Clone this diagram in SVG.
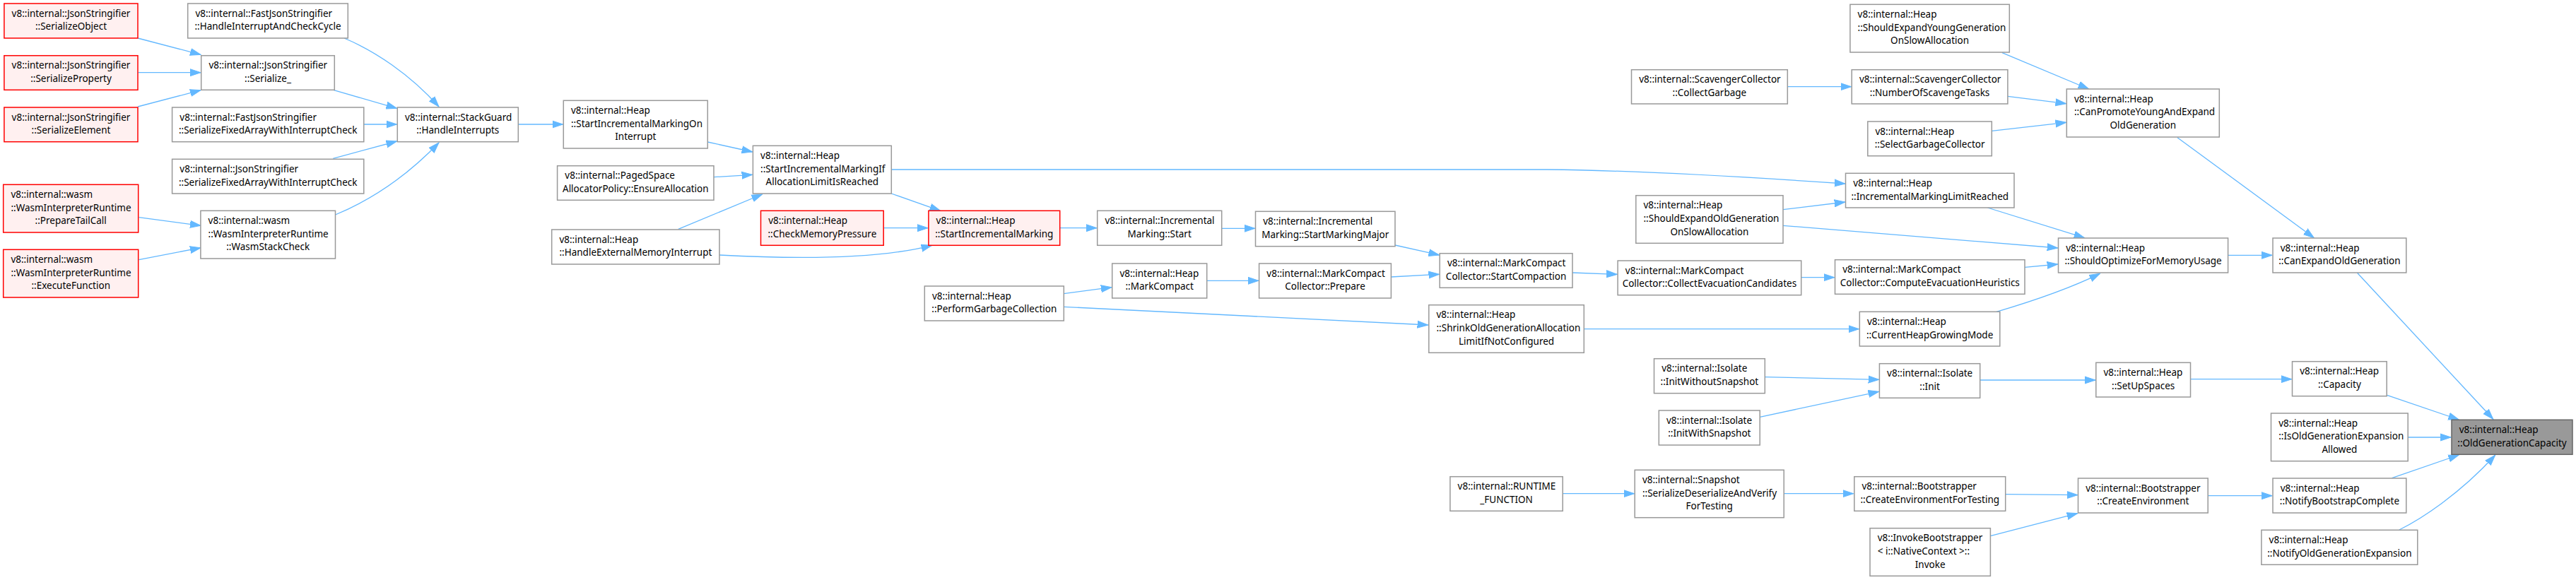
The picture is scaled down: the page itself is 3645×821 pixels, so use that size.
<svg xmlns="http://www.w3.org/2000/svg" width="3645" height="821" viewBox="0 0 3645 821">
<defs>
<marker id="a" markerUnits="userSpaceOnUse" markerWidth="16" markerHeight="12" refX="15" refY="6" orient="auto"><path d="M0,1 L15,6 L0,11 z" fill="#63b8ff" stroke="#63b8ff" stroke-width="1"/></marker>
</defs>
<style>
rect{fill:#ffffff;stroke:#999999;stroke-width:1.5}
.r rect{fill:#fff0f0;stroke:#ff0000}
.t rect{fill:#999999;stroke:#666666}
text{font-family:"Noto Sans","DejaVu Sans",sans-serif;font-size:13.5px;fill:#000000}
.m{text-anchor:middle}
#edges path{fill:none;stroke:#63b8ff;stroke-width:1.3;marker-end:url(#a)}
</style>
<rect x="0" y="0" width="3645" height="821" style="fill:#ffffff;stroke:none"/>
<g id="edges">
<path d="M195,54 L284,77.3"/>
<path d="M195.7,102.7 L284,102.7"/>
<path d="M195,151 L284,127.7"/>
<path d="M487,54 C530,72 580,105 621,151"/>
<path d="M472.5,127.7 L561.5,153.3"/>
<path d="M514.8,176 L561.5,176"/>
<path d="M471.3,224.3 L561.5,200"/>
<path d="M474.5,304 C525,283 575,250 621,202"/>
<path d="M196.5,307.7 L284,319.3"/>
<path d="M196.5,367.7 L284,350.7"/>
<path d="M733.3,176 L796.5,176"/>
<path d="M1001.3,201 L1064.6,215"/>
<path d="M1010,250.7 L1064.6,247.3"/>
<path d="M959.8,324.3 L1078.5,275"/>
<path d="M1018,361 C1110,366 1240,368 1318.6,347.3"/>
<path d="M1261.3,274 L1330.5,298.3"/>
<path d="M1250.2,322.7 L1313,322.7"/>
<path d="M1261.3,240 L2190,240 C2300,241 2450,249 2610.8,260"/>
<path d="M1499.7,322.7 L1552,322.7"/>
<path d="M1728.7,323.3 L1775.7,323.3"/>
<path d="M1974,347 L2036.5,361"/>
<path d="M1968.4,392 L2036.5,388.3"/>
<path d="M1707.7,397.3 L1780.9,397.3"/>
<path d="M1505.3,415.7 L1572.9,406.7"/>
<path d="M1505.3,434.3 L2020.6,460"/>
<path d="M2225,386 L2288.3,388.3"/>
<path d="M2548.7,392.7 L2595.7,392.7"/>
<path d="M2865,378.3 L2911.7,374"/>
<path d="M2523,296.7 L2610.8,286"/>
<path d="M2523,319.3 L2911.7,351"/>
<path d="M2812.4,294 L2949.6,336.7"/>
<path d="M2241.3,465.7 L2630.5,465.7"/>
<path d="M2825,441.3 C2870,428 2925,410 2971.4,387.3"/>
<path d="M3152.6,361.3 L3215.1,361.3"/>
<path d="M2529.3,122.7 L2619.5,122.7"/>
<path d="M2833,74.7 L2955.6,126"/>
<path d="M2840.9,136.3 L2923.5,146.7"/>
<path d="M2818.3,185.3 L2923.5,173.3"/>
<path d="M3081,194.7 L3274.4,336.7"/>
<path d="M3335.3,386 L3527.8,593.3"/>
<path d="M2497.3,533.7 L2658.6,537.3"/>
<path d="M2490.2,590.3 L2658.6,554.3"/>
<path d="M2801.7,538 L2965,538"/>
<path d="M3099.5,536.7 L3242.7,536.7"/>
<path d="M3377.6,559.3 L3479.2,594"/>
<path d="M3407.2,619 L3468.1,619"/>
<path d="M3384.6,676.7 L3479.2,644"/>
<path d="M3394.9,750 C3425,735 3480,700 3530.6,644.3"/>
<path d="M2211.2,698.7 L2312.5,698.7"/>
<path d="M2524.2,698.7 L2622.6,698.7"/>
<path d="M2837.7,699.7 L2939.7,700.7"/>
<path d="M2816.4,758.7 L2939.7,726.7"/>
<path d="M3124.2,701.7 L3215.1,701.7"/>
</g>
<g id="n1" class="r"><rect x="5.9" y="5" width="189.1" height="49"/><text x="16.6" y="23.5">v8::internal::JsonStringifier</text><text class="m" x="100.5" y="42.3">::SerializeObject</text></g>
<g id="n2" class="r"><rect x="5.9" y="78.7" width="189.1" height="48.6"/><text x="16.6" y="97.2">v8::internal::JsonStringifier</text><text class="m" x="100.5" y="116">::SerializeProperty</text></g>
<g id="n3" class="r"><rect x="5.9" y="152" width="189.1" height="48.7"/><text x="16.6" y="170.5">v8::internal::JsonStringifier</text><text class="m" x="100.5" y="189.3">::SerializeElement</text></g>
<g id="n4" class="r"><rect x="4.7" y="261.3" width="191" height="67.7"/><text x="15.4" y="279.8">v8::internal::wasm</text><text x="15.4" y="298.6">::WasmInterpreterRuntime</text><text class="m" x="100.2" y="317.4">::PrepareTailCall</text></g>
<g id="n5" class="r"><rect x="4.7" y="353.3" width="191" height="67.7"/><text x="15.4" y="371.8">v8::internal::wasm</text><text x="15.4" y="390.6">::WasmInterpreterRuntime</text><text class="m" x="100.2" y="409.4">::ExecuteFunction</text></g>
<g id="n6"><rect x="265.7" y="5" width="226.6" height="49"/><text x="276.4" y="23.5">v8::internal::FastJsonStringifier</text><text class="m" x="379" y="42.3">::HandleInterruptAndCheckCycle</text></g>
<g id="n7"><rect x="284.7" y="78.7" width="188.6" height="48.6"/><text x="295.4" y="97.2">v8::internal::JsonStringifier</text><text class="m" x="379" y="116">::Serialize_</text></g>
<g id="n8"><rect x="243.6" y="152" width="271.2" height="48.7"/><text x="254.3" y="170.5">v8::internal::FastJsonStringifier</text><text class="m" x="379.2" y="189.3">::SerializeFixedArrayWithInterruptCheck</text></g>
<g id="n9"><rect x="243.6" y="225.3" width="271.2" height="48.7"/><text x="254.3" y="243.8">v8::internal::JsonStringifier</text><text class="m" x="379.2" y="262.6">::SerializeFixedArrayWithInterruptCheck</text></g>
<g id="n10"><rect x="283.9" y="298.3" width="190.6" height="67.7"/><text x="294.6" y="316.8">v8::internal::wasm</text><text x="294.6" y="335.6">::WasmInterpreterRuntime</text><text class="m" x="379.2" y="354.4">::WasmStackCheck</text></g>
<g id="n11"><rect x="562.3" y="152" width="171" height="48.7"/><text x="573" y="170.5">v8::internal::StackGuard</text><text class="m" x="647.8" y="189.3">::HandleInterrupts</text></g>
<g id="n12"><rect x="797.3" y="142.3" width="204" height="67.7"/><text x="808" y="160.8">v8::internal::Heap</text><text x="808" y="179.6">::StartIncrementalMarkingOn</text><text class="m" x="899.3" y="198.4">Interrupt</text></g>
<g id="n13"><rect x="788.6" y="234.7" width="221.4" height="48.6"/><text x="799.3" y="253.2">v8::internal::PagedSpace</text><text class="m" x="899.3" y="272">AllocatorPolicy::EnsureAllocation</text></g>
<g id="n14"><rect x="780.7" y="325" width="237.3" height="49"/><text x="791.4" y="343.5">v8::internal::Heap</text><text class="m" x="899.4" y="362.3">::HandleExternalMemoryInterrupt</text></g>
<g id="n15"><rect x="1065.4" y="206.3" width="195.9" height="67.7"/><text x="1076.1" y="224.8">v8::internal::Heap</text><text x="1076.1" y="243.6">::StartIncrementalMarkingIf</text><text class="m" x="1163.4" y="262.4">AllocationLimitIsReached</text></g>
<g id="n16" class="r"><rect x="1076.5" y="298.3" width="173.7" height="49"/><text x="1087.2" y="316.8">v8::internal::Heap</text><text class="m" x="1163.4" y="335.6">::CheckMemoryPressure</text></g>
<g id="n17" class="r"><rect x="1313.9" y="298.3" width="185.8" height="49"/><text x="1324.6" y="316.8">v8::internal::Heap</text><text class="m" x="1406.8" y="335.6">::StartIncrementalMarking</text></g>
<g id="n18"><rect x="1552.7" y="298.3" width="176" height="49"/><text x="1563.4" y="316.8">v8::internal::Incremental</text><text class="m" x="1640.7" y="335.6">Marking::Start</text></g>
<g id="n19"><rect x="1776.5" y="299.3" width="197.5" height="49.4"/><text x="1787.2" y="317.8">v8::internal::Incremental</text><text class="m" x="1875.3" y="336.6">Marking::StartMarkingMajor</text></g>
<g id="n20"><rect x="1573.7" y="373" width="134" height="49"/><text x="1584.4" y="391.5">v8::internal::Heap</text><text class="m" x="1640.7" y="410.3">::MarkCompact</text></g>
<g id="n21"><rect x="1781.6" y="373" width="186.8" height="49"/><text x="1792.3" y="391.5">v8::internal::MarkCompact</text><text class="m" x="1875" y="410.3">Collector::Prepare</text></g>
<g id="n22"><rect x="1308.3" y="405" width="197" height="49"/><text x="1319" y="423.5">v8::internal::Heap</text><text class="m" x="1406.8" y="442.3">::PerformGarbageCollection</text></g>
<g id="n23"><rect x="2037.2" y="358.7" width="187.8" height="48.6"/><text x="2047.9" y="377.2">v8::internal::MarkCompact</text><text class="m" x="2131.1" y="396">Collector::StartCompaction</text></g>
<g id="n24"><rect x="2308.5" y="98.7" width="220.8" height="48.3"/><text x="2319.2" y="117.2">v8::internal::ScavengerCollector</text><text class="m" x="2418.9" y="136">::CollectGarbage</text></g>
<g id="n25"><rect x="2314.8" y="276.7" width="208.2" height="67.6"/><text x="2325.5" y="295.2">v8::internal::Heap</text><text x="2325.5" y="314">::ShouldExpandOldGeneration</text><text class="m" x="2418.9" y="332.8">OnSlowAllocation</text></g>
<g id="n26"><rect x="2289.1" y="369" width="259.6" height="48.7"/><text x="2299.8" y="387.5">v8::internal::MarkCompact</text><text class="m" x="2418.9" y="406.3">Collector::CollectEvacuationCandidates</text></g>
<g id="n27"><rect x="2021.8" y="431.7" width="219.5" height="67.6"/><text x="2032.5" y="450.2">v8::internal::Heap</text><text x="2032.5" y="469">::ShrinkOldGenerationAllocation</text><text class="m" x="2131.6" y="487.8">LimitIfNotConfigured</text></g>
<g id="n28"><rect x="2340.5" y="507.7" width="156.8" height="49"/><text x="2351.2" y="526.2">v8::internal::Isolate</text><text class="m" x="2418.9" y="545">::InitWithoutSnapshot</text></g>
<g id="n29"><rect x="2347.3" y="581" width="142.9" height="49"/><text x="2358" y="599.5">v8::internal::Isolate</text><text class="m" x="2418.8" y="618.3">::InitWithSnapshot</text></g>
<g id="n30"><rect x="2051.9" y="674.7" width="159.3" height="48.6"/><text x="2062.6" y="693.2">v8::internal::RUNTIME</text><text class="m" x="2131.6" y="712">_FUNCTION</text></g>
<g id="n31"><rect x="2313.2" y="665.3" width="211" height="67.4"/><text x="2323.9" y="683.8">v8::internal::Snapshot</text><text x="2323.9" y="702.6">::SerializeDeserializeAndVerify</text><text class="m" x="2418.7" y="721.4">ForTesting</text></g>
<g id="n32"><rect x="2617.9" y="6.3" width="225.4" height="67.7"/><text x="2628.6" y="24.8">v8::internal::Heap</text><text x="2628.6" y="43.6">::ShouldExpandYoungGeneration</text><text class="m" x="2730.6" y="62.4">OnSlowAllocation</text></g>
<g id="n33"><rect x="2620.2" y="98.7" width="220.7" height="48.3"/><text x="2630.9" y="117.2">v8::internal::ScavengerCollector</text><text class="m" x="2730.6" y="136">::NumberOfScavengeTasks</text></g>
<g id="n34"><rect x="2642.8" y="172" width="175.5" height="48.7"/><text x="2653.5" y="190.5">v8::internal::Heap</text><text class="m" x="2730.6" y="209.3">::SelectGarbageCollector</text></g>
<g id="n35"><rect x="2924.3" y="126" width="216" height="68"/><text x="2935" y="144.5">v8::internal::Heap</text><text x="2935" y="163.3">::CanPromoteYoungAndExpand</text><text class="m" x="3032.3" y="182.1">OldGeneration</text></g>
<g id="n36"><rect x="2611.5" y="245.3" width="238.5" height="48.7"/><text x="2622.2" y="263.8">v8::internal::Heap</text><text class="m" x="2730.8" y="282.6">::IncrementalMarkingLimitReached</text></g>
<g id="n37"><rect x="2912.5" y="337" width="240.1" height="49"/><text x="2923.2" y="355.5">v8::internal::Heap</text><text class="m" x="3032.6" y="374.3">::ShouldOptimizeForMemoryUsage</text></g>
<g id="n38"><rect x="2596.5" y="367.7" width="268.5" height="48.6"/><text x="2607.2" y="386.2">v8::internal::MarkCompact</text><text class="m" x="2730.8" y="405">Collector::ComputeEvacuationHeuristics</text></g>
<g id="n39"><rect x="2631.3" y="441.3" width="198.5" height="48.7"/><text x="2642" y="459.8">v8::internal::Heap</text><text class="m" x="2730.6" y="478.6">::CurrentHeapGrowingMode</text></g>
<g id="n40"><rect x="2659.4" y="514.7" width="142.3" height="48.6"/><text x="2670.1" y="533.2">v8::internal::Isolate</text><text class="m" x="2730.6" y="552">::Init</text></g>
<g id="n41"><rect x="2965.8" y="513.3" width="133.7" height="48.7"/><text x="2976.5" y="531.8">v8::internal::Heap</text><text class="m" x="3032.7" y="550.6">::SetUpSpaces</text></g>
<g id="n42"><rect x="2623.8" y="674.7" width="213.9" height="48.6"/><text x="2634.5" y="693.2">v8::internal::Bootstrapper</text><text class="m" x="2730.8" y="712">::CreateEnvironmentForTesting</text></g>
<g id="n43"><rect x="2646" y="747.7" width="170.4" height="67.6"/><text x="2656.7" y="766.2">v8::InvokeBootstrapper</text><text x="2656.7" y="785">&lt; i::NativeContext &gt;::</text><text class="m" x="2731.2" y="803.8">Invoke</text></g>
<g id="n44"><rect x="2940.5" y="677" width="183.7" height="49"/><text x="2951.2" y="695.5">v8::internal::Bootstrapper</text><text class="m" x="3032.4" y="714.3">::CreateEnvironment</text></g>
<g id="n45"><rect x="3216" y="337" width="188.8" height="49"/><text x="3226.7" y="355.5">v8::internal::Heap</text><text class="m" x="3310.4" y="374.3">::CanExpandOldGeneration</text></g>
<g id="n46"><rect x="3243.5" y="511.7" width="133.7" height="49"/><text x="3254.2" y="530.2">v8::internal::Heap</text><text class="m" x="3310.4" y="549">::Capacity</text></g>
<g id="n47"><rect x="3213.5" y="585" width="193.7" height="67.7"/><text x="3224.2" y="603.5">v8::internal::Heap</text><text x="3224.2" y="622.3">::IsOldGenerationExpansion</text><text class="m" x="3310.4" y="641.1">Allowed</text></g>
<g id="n48"><rect x="3216" y="677" width="188.8" height="49"/><text x="3226.7" y="695.5">v8::internal::Heap</text><text class="m" x="3310.4" y="714.3">::NotifyBootstrapComplete</text></g>
<g id="n49"><rect x="3199.9" y="750.3" width="220.9" height="49"/><text x="3210.6" y="768.8">v8::internal::Heap</text><text class="m" x="3310.4" y="787.6">::NotifyOldGenerationExpansion</text></g>
<g id="n50" class="t"><rect x="3469" y="594.3" width="171" height="49"/><text x="3479.7" y="612.8">v8::internal::Heap</text><text class="m" x="3554.5" y="631.6">::OldGenerationCapacity</text></g>
</svg>
